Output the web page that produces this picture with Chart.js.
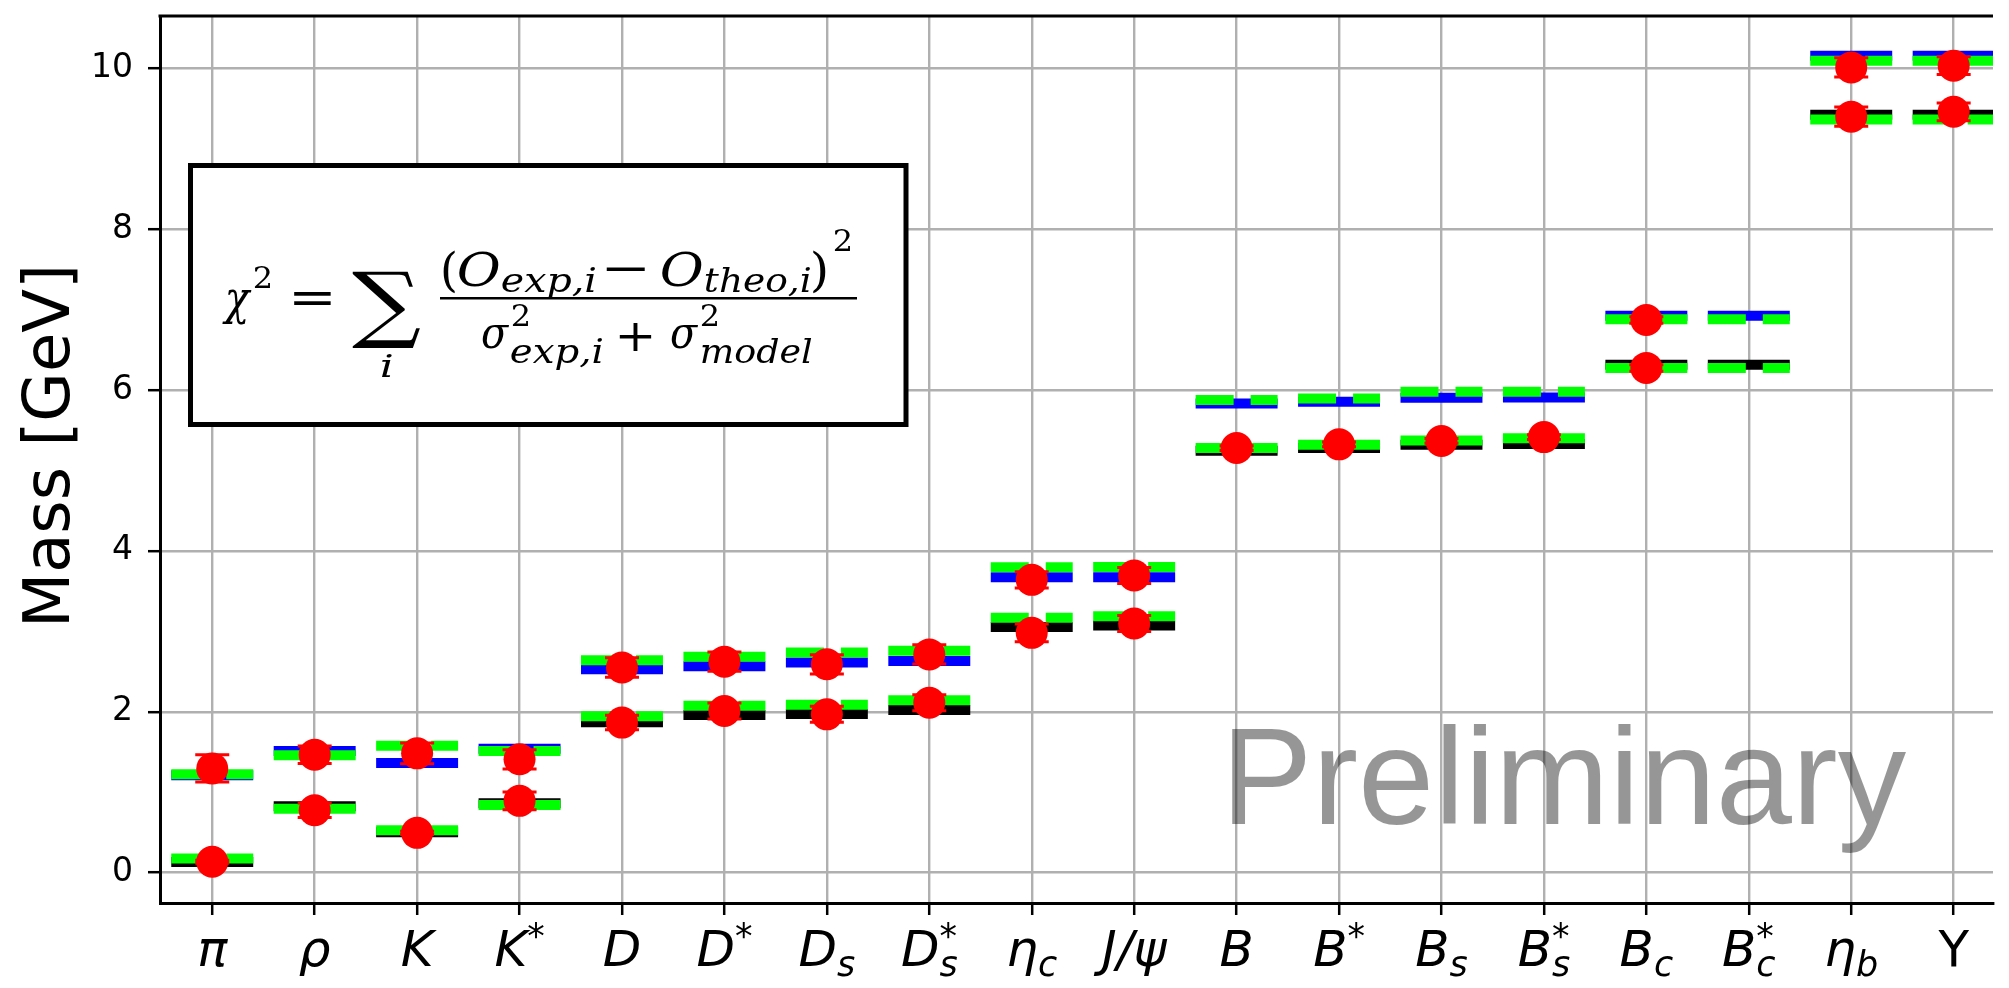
<!DOCTYPE html>
<html>
<head>
<meta charset="utf-8">
<script src="https://cdn.jsdelivr.net/npm/chart.js@4.4.1/dist/chart.umd.min.js"></script>
<style>
	html, body { margin: 0; padding: 0; background: #fff; overflow: hidden; }
	canvas { display: block; }
</style>
</head>
<body>
<canvas id="massChart" width="2009" height="988"></canvas>
<script>
// meson labels: main symbol, subscript, superscript
const labelMain = ['π', 'ρ', 'K', 'K', 'D', 'D', 'D', 'D', 'η', 'J/ψ', 'B', 'B', 'B', 'B', 'B', 'B', 'η', 'Υ'];
const labelSub  = ['', '', '', '', '', '', 's', 's', 'c', '', '', '', 's', 's', 'c', 'c', 'b', ''];
const labelSup  = ['', '', '', '*', '', '*', '', '*', '', '', '', '*', '', '*', '', '*', '', ''];
const uprightLabels = ['Υ'];

// model levels (GeV)
const modelGround  = [0.132, 0.824, 0.503, 0.861, 1.870, 1.960, 1.972, 2.022, 3.055, 3.072, 5.245, 5.279, 5.319, 5.328, 6.316, 6.316, 9.424, 9.424];
const modelExcited = [1.211, 1.512, 1.363, 1.540, 2.528, 2.565, 2.611, 2.632, 3.673, 3.673, 5.834, 5.855, 5.905, 5.908, 6.925, 6.925, 10.157, 10.157];

// fitted levels (GeV)
const fitGround  = [0.174, 0.795, 0.527, 0.841, 1.944, 2.076, 2.088, 2.142, 3.170, 3.188, 5.279, 5.319, 5.374, 5.402, 6.275, 6.275, 9.363, 9.363];
const fitExcited = [1.224, 1.460, 1.577, 1.512, 2.639, 2.685, 2.738, 2.759, 3.796, 3.800, 5.875, 5.896, 5.979, 5.979, 6.880, 6.880, 10.095, 10.095];

// measured masses and errors (GeV)
const expGround     = [0.135, 0.775, 0.494, 0.892, 1.865, 2.010, 1.968, 2.112, 2.981, 3.097, 5.279, 5.325, 5.367, 5.415, 6.275, null, 9.399, 9.460];
const expGroundErr  = [0.02, 0.09, 0.02, 0.11, 0.09, 0.10, 0.10, 0.10, 0.11, 0.10, 0.03, 0.03, 0.03, 0.03, 0.04, null, 0.12, 0.11];
const expExcited    = [1.295, 1.465, 1.483, 1.409, 2.550, 2.623, 2.590, 2.713, 3.640, 3.694, null, null, null, null, 6.871, null, 10.012, 10.033];
const expExcitedErr = [0.17, 0.11, 0.13, 0.12, 0.12, 0.12, 0.12, 0.12, 0.10, 0.10, null, null, null, null, 0.04, null, 0.12, 0.11];

const yTicks = [0, 2, 4, 6, 8, 10];

// one short horizontal segment per meson, broken by null points
function levelData(values) {
	const pts = [];
	values.forEach((v, i) => {
		if (v === null) return;
		pts.push({ x: i - 0.4, y: v }, { x: i + 0.4, y: v }, { x: i + 0.5, y: null });
	});
	return pts;
}

function pointData(values) {
	return values.map((v, i) => ({ x: i, y: v })).filter(p => p.y !== null);
}

function levelSet(values, color, dashed, order) {
	return {
		data: levelData(values),
		borderColor: color,
		borderWidth: 10,
		borderDash: dashed ? [38, 17] : [],
		borderCapStyle: 'butt',
		pointRadius: 0,
		spanGaps: false,
		order: order,
	};
}

function pointSet(values) {
	return {
		data: pointData(values),
		showLine: false,
		pointRadius: 16,
		pointBackgroundColor: '#ff0000',
		pointBorderWidth: 0,
		order: 0,
	};
}

function drawErrorBars(chart) {
	const { ctx, scales: { x, y } } = chart;
	ctx.save();
	ctx.strokeStyle = '#ff0000';
	ctx.lineWidth = 3;
	[[expGround, expGroundErr], [expExcited, expExcitedErr]].forEach(([vals, errs]) => {
		vals.forEach((v, i) => {
			if (v === null) return;
			const px = x.getPixelForValue(i);
			const top = y.getPixelForValue(v + errs[i]);
			const bot = y.getPixelForValue(v - errs[i]);
			ctx.beginPath();
			ctx.moveTo(px, top);
			ctx.lineTo(px, bot);
			ctx.moveTo(px - 17, top);
			ctx.lineTo(px + 17, top);
			ctx.moveTo(px - 17, bot);
			ctx.lineTo(px + 17, bot);
			ctx.stroke();
		});
	});
	ctx.restore();
}

function drawTickLabels(chart) {
	const { ctx, scales: { x } } = chart;
	const mainSize = 50;
	const scriptSize = 35;
	ctx.save();
	ctx.fillStyle = '#000';
	ctx.textBaseline = 'alphabetic';
	ctx.textAlign = 'left';
	labelMain.forEach((main, i) => {
		const mainFont = (uprightLabels.includes(main) ? '' : 'italic ') + mainSize + 'px "DejaVu Sans"';
		const subFont = 'italic ' + scriptSize + 'px "DejaVu Sans"';
		const supFont = scriptSize + 'px "DejaVu Sans"';
		ctx.font = mainFont;
		const wMain = ctx.measureText(main).width;
		ctx.font = subFont;
		const wSub = labelSub[i] ? ctx.measureText(labelSub[i]).width : 0;
		ctx.font = supFont;
		const wSup = labelSup[i] ? ctx.measureText(labelSup[i]).width : 0;
		const total = wMain + Math.max(wSub, wSup);
		const left = x.getPixelForValue(i) - total / 2;
		ctx.font = mainFont;
		ctx.fillText(main, left, 966);
		if (labelSub[i]) {
			ctx.font = subFont;
			ctx.fillText(labelSub[i], left + wMain, 976);
		}
		if (labelSup[i]) {
			ctx.font = supFont;
			ctx.fillText(labelSup[i], left + wMain, 948);
		}
	});
	ctx.restore();
}

// formula pieces: text, italic?, size, ink left, ink right, baseline
const formulaParts = [
	['χ', true, 46, 222, 252, 314],
	['2', false, 30, 255, 271, 288],
	['=', false, 46, 293, 331, 313],
	['∑', false, 84, 352, 420, 332],
	['i', true, 32, 381, 392, 377],
	['(', false, 46, 443, 455, 286],
	['O', true, 46, 458, 500, 286],
	['exp,i', true, 33, 502, 595, 292],
	['−', false, 44, 606, 646, 283],
	['O', true, 46, 661, 703, 286],
	['theo,i', true, 33, 705, 810, 292],
	[')', false, 46, 813, 826, 286],
	['2', false, 30, 835, 851, 251],
	['σ', true, 44, 482, 510, 348],
	['2', false, 30, 513, 529, 326],
	['exp,i', true, 33, 511, 602, 363],
	['+', false, 44, 619, 652, 351],
	['σ', true, 44, 671, 699, 348],
	['2', false, 30, 702, 718, 326],
	['model', true, 33, 702, 812, 363],
];

function drawFormula(ctx) {
	ctx.save();
	// white box with heavy frame
	ctx.fillStyle = '#fff';
	ctx.fillRect(190.5, 165.5, 715.5, 259);
	ctx.strokeStyle = '#000';
	ctx.lineWidth = 5;
	ctx.strokeRect(190.5, 165.5, 715.5, 259);

	ctx.fillStyle = '#000';
	ctx.textBaseline = 'alphabetic';
	ctx.textAlign = 'left';
	formulaParts.forEach(([text, italic, size, left, right, base]) => {
		ctx.font = (italic ? 'italic ' : '') + size + 'px "DejaVu Serif"';
		const m = ctx.measureText(text);
		const inkW = m.actualBoundingBoxLeft + m.actualBoundingBoxRight;
		const sx = (right - left) / inkW;
		ctx.save();
		ctx.translate(left, base);
		ctx.scale(sx, 1);
		ctx.fillText(text, m.actualBoundingBoxLeft, 0);
		ctx.restore();
	});
	// fraction bar
	ctx.fillRect(440, 297, 417, 2.5);
	ctx.restore();
}

const overlay = {
	id: 'overlay',
	afterDatasetsDraw(chart) {
		drawErrorBars(chart);
	},
	afterDraw(chart) {
		const { ctx, chartArea } = chart;
		ctx.save();
		// top frame line
		ctx.fillStyle = '#000';
		ctx.fillRect(chartArea.left - 1.5, chartArea.top - 1.5, chartArea.right - chartArea.left + 1.5, 3);

		// y axis title
		ctx.translate(69, 446);
		ctx.rotate(-Math.PI / 2);
		ctx.font = '64px "DejaVu Sans"';
		ctx.textAlign = 'center';
		ctx.textBaseline = 'alphabetic';
		ctx.fillText('Mass [GeV]', 0, 0);
		ctx.restore();

		drawTickLabels(chart);
		drawFormula(ctx);

		ctx.save();
		ctx.font = '137px "Liberation Sans"';
		ctx.fillStyle = 'rgba(0, 0, 0, 0.41)';
		ctx.textAlign = 'left';
		ctx.textBaseline = 'alphabetic';
		ctx.fillText('Preliminary', 1221, 824);
		ctx.restore();
	}
};

const gridStyle = {
	color: '#b0b0b0',
	lineWidth: 2.4,
	tickColor: '#000',
	tickWidth: 2.5,
	tickLength: 12,
};

new Chart(document.getElementById('massChart'), {
	type: 'line',
	data: {
		datasets: [
			pointSet(expExcited),
			pointSet(expGround),
			levelSet(fitExcited, '#00ff00', true, 1),
			levelSet(fitGround, '#00ff00', true, 1),
			levelSet(modelExcited, '#0000ff', false, 2),
			levelSet(modelGround, '#000000', false, 2),
		],
	},
	options: {
		responsive: false,
		animation: false,
		layout: { padding: { top: 10, right: 0, bottom: 0, left: 0 } },
		plugins: {
			legend: { display: false },
			tooltip: { enabled: false },
		},
		scales: {
			x: {
				type: 'linear',
				min: -0.51,
				max: 17.384,
				grid: gridStyle,
				border: { display: true, color: '#000', width: 3 },
				ticks: { display: false },
				afterBuildTicks: axis => {
					axis.ticks = labelMain.map((_, i) => ({ value: i }));
				},
				afterFit: axis => {
					axis.height = 85;
					axis.paddingLeft = 0;
					axis.paddingRight = 0;
				},
			},
			y: {
				type: 'linear',
				min: -0.378,
				max: 10.651,
				grid: gridStyle,
				border: { display: true, color: '#000', width: 3 },
				ticks: {
					color: '#000',
					padding: 15,
					font: { family: 'DejaVu Sans', size: 33 },
					callback: v => String(v),
				},
				afterBuildTicks: axis => {
					axis.ticks = yTicks.map(v => ({ value: v }));
				},
				afterFit: axis => {
					axis.width = 160;
					axis.paddingTop = 0;
					axis.paddingBottom = 0;
				},
			},
		},
	},
	plugins: [overlay],
});
</script>
</body>
</html>
